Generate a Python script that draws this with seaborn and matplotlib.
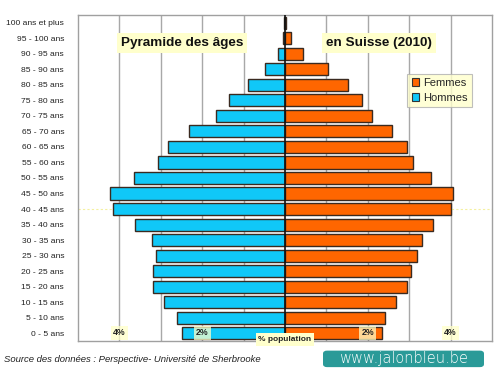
import numpy as np
import pandas as pd
import matplotlib
matplotlib.use("Agg")
import matplotlib.pyplot as plt
import seaborn as sns
from matplotlib.patches import Patch, FancyBboxPatch

ages = ["100 ans et plus", "95 - 100 ans", "90 - 95 ans", "85 - 90 ans", "80 - 85 ans",
        "75 - 80 ans", "70 - 75 ans", "65 - 70 ans", "60 - 65 ans", "55 - 60 ans",
        "50 - 55 ans", "45 - 50 ans", "40 - 45 ans", "35 - 40 ans", "30 - 35 ans",
        "25 - 30 ans", "20 - 25 ans", "15 - 20 ans", "10 - 15 ans", "5 - 10 ans", "0 - 5 ans"]
hommes = [0.02, 0.04, 0.16, 0.48, 0.90, 1.35, 1.67, 2.33, 2.82, 3.06, 3.64, 4.23, 4.15,
          3.62, 3.22, 3.12, 3.18, 3.20, 2.92, 2.61, 2.48]
femmes = [0.02, 0.14, 0.43, 1.03, 1.51, 1.85, 2.09, 2.59, 2.95, 3.08, 3.52, 4.05, 4.02,
          3.57, 3.30, 3.18, 3.04, 2.94, 2.67, 2.42, 2.34]
tick_vals = [-4, -2, 2, 4]
tick_labels = ["4%", "2%", "2%", "4%"]

sns.set_style("white")
plt.rcParams['font.family'] = ['Liberation Sans', 'DejaVu Sans']

df = pd.DataFrame({
    "age": ages * 2,
    "val": [-v for v in hommes] + femmes,
    "sexe": ["Hommes"] * len(ages) + ["Femmes"] * len(ages),
})

fig = plt.figure(figsize=(5, 3.75), dpi=100)
ax = fig.add_axes([0.156, 0.0907, 0.828, 0.8693])

cyan = "#10C8F8"
orange = "#FF6600"
sns.barplot(data=df, y="age", x="val", hue="sexe", order=ages,
            palette={"Hommes": cyan, "Femmes": orange}, dodge=False, saturation=1,
            orient="h", width=0.78, edgecolor="#3a2a20", linewidth=1.0,
            ax=ax, legend=False, zorder=3)

ax.set_xlim(-5, 5)
ax.set_ylim(len(ages) - 0.5, -0.5)
for g in range(-4, 5):
    if g != 0:
        ax.axvline(g, color="#a8a8a8", lw=1.0, zorder=1)
ax.axvline(0, color="#111111", lw=1.2, zorder=4)
ax.axhline(12, color="#f4f0a0", lw=0.8, ls=(0, (2, 2)), zorder=2)

for s in ax.spines.values():
    s.set_color("#a0a0a0")
    s.set_linewidth(1.0)

ax.set_xticks([])
ax.set_xlabel("")
ax.set_ylabel("")
ax.tick_params(axis="y", length=0, pad=10, labelsize=6.1, labelcolor="#222222")

trans = matplotlib.transforms.blended_transform_factory(ax.transData, ax.transAxes)
for v, lab in zip(tick_vals, tick_labels):
    ax.text(v, 0.025, lab, transform=trans, ha="center", va="center", fontsize=6.3,
            fontweight="bold", color="#222222", zorder=6,
            bbox=dict(boxstyle="square,pad=0.25", fc="#FFFFC8", ec="none", alpha=0.75))
ax.text(0, 0.004, "% population", transform=trans, ha="center", va="center",
        fontsize=6.0, fontweight="bold", color="#222222", zorder=6,
        bbox=dict(boxstyle="square,pad=0.35", fc="#FFFFCC", ec="none"))

ax.text(0.251, 0.914, "Pyramide des âges", transform=ax.transAxes, ha="center",
        va="center", fontsize=9.7, fontweight="bold", color="#111111", zorder=6,
        bbox=dict(boxstyle="square,pad=0.3", fc="#FFFFCC", ec="none"))
ax.text(0.728, 0.914, "en Suisse (2010)", transform=ax.transAxes, ha="center",
        va="center", fontsize=9.7, fontweight="bold", color="#111111", zorder=6,
        bbox=dict(boxstyle="square,pad=0.3", fc="#FFFFCC", ec="none"))

handles = [Patch(fc=orange, ec="#333333", lw=0.8, label="Femmes"),
           Patch(fc=cyan, ec="#333333", lw=0.8, label="Hommes")]
leg = ax.legend(handles=handles, loc="upper left", bbox_to_anchor=(0.795, 0.82),
                fontsize=8, frameon=True, fancybox=False, handlelength=0.7,
                handleheight=0.7, handletextpad=0.3, borderpad=0.4, labelspacing=0.4,
                borderaxespad=0)
leg.get_frame().set_facecolor("#FFFFCC")
leg.get_frame().set_edgecolor("#b0b0b0")
leg.get_frame().set_linewidth(0.8)
leg.set_zorder(7)

fig.text(0.008, 0.04, "Source des données : Perspective- Université de Sherbrooke",
         fontsize=6.8, style="italic", color="#222222", ha="left", va="center")

box = FancyBboxPatch((0.646, 0.021), 0.322, 0.044, boxstyle="round,pad=0,rounding_size=0.008",
                     transform=fig.transFigure, fc="#2A9A98", ec="none")
fig.patches.append(box)
fig.text(0.807, 0.043, "www.jalonbleu.be", fontsize=10.5, color="white", ha="center",
         va="center", family=["DejaVu Sans"], fontweight="light")

fig.savefig("out.png", dpi=100)
